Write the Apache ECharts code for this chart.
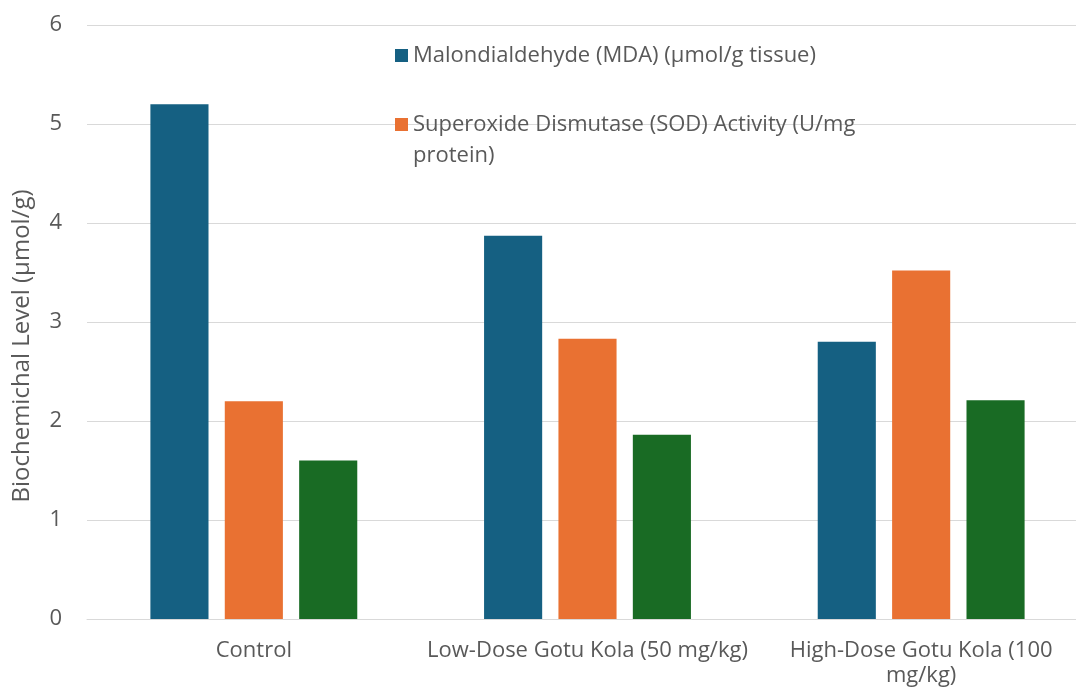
<!DOCTYPE html>
<html>
<head>
<meta charset="utf-8">
<script src="https://cdn.jsdelivr.net/npm/echarts@6/dist/echarts.min.js"></script>
<style>html,body{margin:0;padding:0;background:#fff}#c{width:1076px;height:691px}</style>
</head>
<body>
<div id="c"></div>
<script>
const categories = ["Control", "Low-Dose Gotu Kola (50 mg/kg)", "High-Dose Gotu Kola (100 mg/kg)"];
const seriesNames = ["Malondialdehyde (MDA) (μmol/g tissue)", "Superoxide Dismutase (SOD) Activity (U/mg protein)", "Series 3"];
const mdaValues = [5.20, 3.87, 2.80];
const sodValues = [2.20, 2.83, 3.52];
const thirdValues = [1.60, 1.86, 2.21];
const yTicks = [0, 1, 2, 3, 4, 5, 6];
const yAxisTitle = "Biochemichal Level (μmol/g)";

const colors = ["#156082", "#E97132", "#196B24"];
const font = "Open Sans";
const textColor = '#595959';

function wrapWords(text, maxChars) {
  const words = text.split(' ');
  const lines = [];
  let cur = '';
  words.forEach(w => {
    const next = cur ? cur + ' ' + w : w;
    if (next.length > maxChars && cur) { lines.push(cur); cur = w; }
    else cur = next;
  });
  if (cur) lines.push(cur);
  return lines.join('\n');
}

const chart = echarts.init(document.getElementById('c'));
chart.setOption({
  animation: false,
  textStyle: {fontFamily: font, color: textColor},
  grid: {left: 87, top: 25, width: 1001, height: 594, containLabel: false, outerBoundsMode: 'none'},
  legend: {
    data: [seriesNames[0], seriesNames[1]],
    orient: 'vertical',
    left: 395, top: 40,
    padding: 0,
    itemWidth: 13, itemHeight: 13, itemGap: 7,
    icon: 'rect',
    formatter: name => name === seriesNames[1] ? '\n' + wrapWords(name, 41) : name,
    textStyle: {fontFamily: font, fontSize: 22, color: textColor, lineHeight: 31}
  },
  xAxis: {
    type: 'category',
    data: categories,
    axisLine: {lineStyle: {color: '#D9D9D9', width: 1}},
    axisTick: {show: false},
    axisLabel: {fontSize: 22, color: textColor, margin: 19, lineHeight: 25, interval: 0,
      formatter: v => wrapWords(v, 30)}
  },
  yAxis: {
    type: 'value',
    min: yTicks[0], max: yTicks[yTicks.length - 1], interval: 1,
    name: yAxisTitle,
    nameLocation: 'middle',
    nameGap: 53,
    nameTextStyle: {fontSize: 24, color: textColor, fontFamily: font, padding: [0, 48, 0, 0]},
    axisLine: {show: false},
    axisTick: {show: false},
    axisLabel: {fontSize: 22, color: textColor, margin: 25},
    splitLine: {lineStyle: {color: '#D9D9D9', width: 1}}
  },
  series: [
    {name: seriesNames[0], type: 'bar', data: mdaValues, itemStyle: {color: colors[0]}, barGap: '28%', barCategoryGap: '38%'},
    {name: seriesNames[1], type: 'bar', data: sodValues, itemStyle: {color: colors[1]}},
    {name: seriesNames[2], type: 'bar', data: thirdValues, itemStyle: {color: colors[2]}}
  ]
});
</script>
</body>
</html>
